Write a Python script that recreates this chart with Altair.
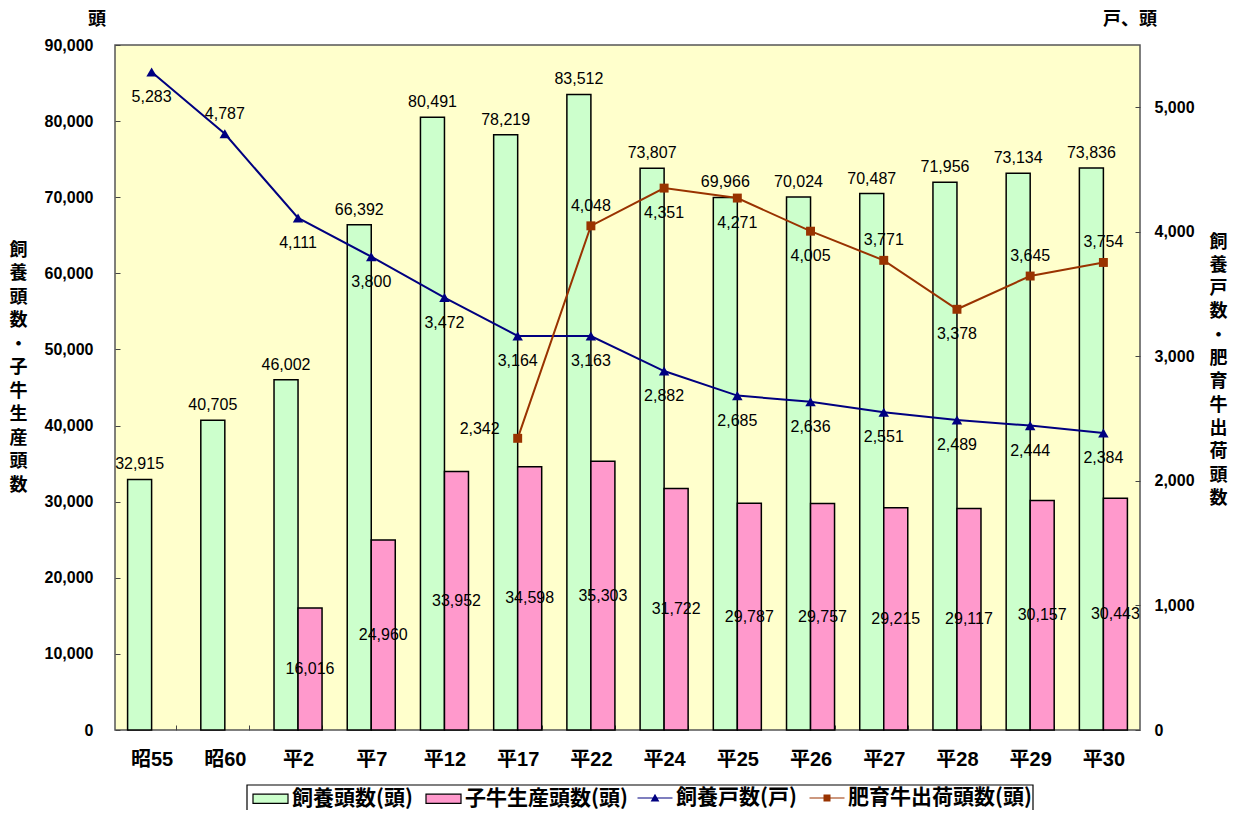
import altair as alt
import pandas as pd

categories = ["昭55", "昭60", "平2", "平7", "平12", "平17", "平22", "平24", "平25", "平26", "平27", "平28", "平29", "平30"]
head_count = [32915, 40705, 46002, 66392, 80491, 78219, 83512, 73807, 69966, 70024, 70487, 71956, 73134, 73836]
calf_count = [None, None, 16016, 24960, 33952, 34598, 35303, 31722, 29787, 29757, 29215, 29117, 30157, 30443]
farm_count = [5283, 4787, 4111, 3800, 3472, 3164, 3163, 2882, 2685, 2636, 2551, 2489, 2444, 2384]
shipped_count = [None, None, None, None, None, 2342, 4048, 4351, 4271, 4005, 3771, 3378, 3645, 3754]
farm_label_pos = ["below", "above", "below", "below", "below", "below", "below", "below", "below", "below", "below", "below", "below", "below"]
shipped_label_pos = [None, None, None, None, None, "left", "above", "below", "below", "below", "above", "below", "above", "above"]
series_names = ["飼養頭数(頭)", "子牛生産頭数(頭)", "飼養戸数(戸)", "肥育牛出荷頭数(頭)"]
series_colors = ["#ccffcc", "#ff99cc", "#000080", "#993300"]
left_unit = "頭"
right_unit = "戸、頭"
left_title = "飼養頭数・子牛生産頭数"
right_title = "飼養戸数・肥育牛出荷頭数"
left_ticks = [0, 10000, 20000, 30000, 40000, 50000, 60000, 70000, 80000, 90000]
right_ticks = [0, 1000, 2000, 3000, 4000, 5000]

NUM_FONT = "Liberation Sans, Noto Sans CJK JP"
CJK_FONT = "Noto Sans CJK JP"

bar_rows = []
for c, h, k in zip(categories, head_count, calf_count):
    bar_rows.append({"cat": c, "series": series_names[0], "value": h})
    if k is not None:
        bar_rows.append({"cat": c, "series": series_names[1], "value": k})
bars_df = pd.DataFrame(bar_rows)

line_rows = []
for c, v, p in zip(categories, farm_count, farm_label_pos):
    line_rows.append({"cat": c, "series": series_names[2], "value": v, "pos": p})
for c, v, p in zip(categories, shipped_count, shipped_label_pos):
    if v is not None:
        line_rows.append({"cat": c, "series": series_names[3], "value": v, "pos": p})
lines_df = pd.DataFrame(line_rows)

units_df = pd.DataFrame({"left": [left_unit], "right": [right_unit]})
legend_df = pd.DataFrame({"series": series_names[2:]})

bar_symbol = "M-1,-0.26H1V0.26H-1Z"
line_symbols = [
    "M-1,-0.035H1V0.035H-1ZM-0.25,0.2L0,-0.24L0.25,0.2Z",
    "M-1,-0.035H1V0.035H-1ZM-0.2,-0.2H0.2V0.2H-0.2Z",
]

common_legend = dict(
    title=None, orient="none", direction="horizontal",
    labelFont=CJK_FONT, labelFontSize=21, labelFontWeight="bold", labelColor="black", labelLimit=400,
    symbolSize=1225, columnPadding=10, labelOffset=3, padding=0, symbolOpacity=1,
)
legend_bars = alt.Legend(legendX=137, legendY=735, symbolType=bar_symbol,
                         symbolStrokeColor="black", symbolStrokeWidth=1.2, **common_legend)
legend_lines = alt.Legend(legendX=522, legendY=735, symbolStrokeWidth=1, **common_legend)

x_enc = alt.X(
    "cat:N", sort=categories,
    scale=alt.Scale(paddingInner=0.344, paddingOuter=0.172),
    axis=alt.Axis(title=None, labelAngle=0, labelFont=NUM_FONT, labelFontSize=20, labelFontWeight="bold",
                  labelColor="black", offset=-5, tickSize=5, domain=False, tickBand="extent",
                  labelPadding=19, tickColor="#444", labelBaseline="top"),
)
xoff = alt.XOffset("series:N", sort=series_names[:2],
                   scale=alt.Scale(domain=series_names[:2], paddingInner=0, paddingOuter=0))

left_axis = alt.Axis(
    title=list(left_title), titleAngle=0, titleX=-102, titleY=205, titleAlign="center",
    titleBaseline="middle", titleFont=CJK_FONT, titleFontSize=18, titleFontWeight="bold",
    titleLineHeight=23.5, titleColor="black",
    values=left_ticks, format=",d", labelFont=NUM_FONT, labelFontSize=16, labelFontWeight="bold",
    labelColor="black", offset=-5, tickSize=5, domain=False, grid=False, labelPadding=22, tickColor="#444",
)
right_axis = alt.Axis(
    orient="right",
    title=list(right_title), titleAngle=0, titleX=83, titleY=197, titleAlign="center",
    titleBaseline="middle", titleFont=CJK_FONT, titleFontSize=18, titleFontWeight="bold",
    titleLineHeight=23.3, titleColor="black",
    values=right_ticks, format=",d", labelFont=NUM_FONT, labelFontSize=16, labelFontWeight="bold",
    labelColor="black", offset=-5, tickSize=5, domain=False, grid=False, labelPadding=14, tickColor="#444",
)

y_left = alt.Y("value:Q", scale=alt.Scale(domain=[0, 90000]), axis=left_axis)
y_right = alt.Y("value:Q", scale=alt.Scale(domain=[0, 5500]), axis=right_axis)

bars = alt.Chart(bars_df).mark_bar(stroke="black", strokeWidth=1.5, opacity=1).encode(
    x=x_enc, xOffset=xoff, y=y_left,
    fill=alt.Fill("series:N", scale=alt.Scale(domain=series_names[:2], range=series_colors[:2]),
                  legend=legend_bars),
)
green_text = alt.Chart(bars_df).transform_filter(
    alt.datum.series == series_names[0]
).mark_text(baseline="bottom", dy=-7, font=NUM_FONT, fontSize=16, color="black").encode(
    x=x_enc, xOffset=xoff, y=y_left, text=alt.Text("value:Q", format=",")
)
pink_text = alt.Chart(bars_df).transform_filter(
    alt.datum.series == series_names[1]
).transform_calculate(mid="datum.value / 2").mark_text(
    baseline="middle", font=NUM_FONT, fontSize=16, color="black"
).encode(
    x=x_enc, xOffset=xoff, y=alt.Y("mid:Q", scale=alt.Scale(domain=[0, 90000]), axis=left_axis),
    text=alt.Text("value:Q", format=",")
)
unit_left = alt.Chart(units_df).mark_text(
    font=CJK_FONT, fontSize=18, fontWeight="bold", color="black", baseline="middle"
).encode(x=alt.value(-18), y=alt.value(-25), text="left:N")
unit_right = alt.Chart(units_df).mark_text(
    font=CJK_FONT, fontSize=18, fontWeight="bold", color="black", baseline="middle"
).encode(x=alt.value(1015), y=alt.value(-25), text="right:N")
legend_box = alt.Chart(units_df).mark_rect(filled=False, stroke="black", strokeWidth=1.2).encode(
    x=alt.value(132), x2=alt.value(918), y=alt.value(740), y2=alt.value(800)
)

left_layer = alt.layer(bars, green_text, pink_text, unit_left, unit_right, legend_box)

farm_line = alt.Chart(lines_df).transform_filter(alt.datum.series == series_names[2]).mark_line(
    strokeWidth=2, color=series_colors[2]
).encode(x=x_enc, y=y_right)
ship_line = alt.Chart(lines_df).transform_filter(alt.datum.series == series_names[3]).mark_line(
    strokeWidth=2, color=series_colors[3]
).encode(x=x_enc, y=y_right)
tri = alt.Chart(lines_df).transform_filter(alt.datum.series == series_names[2]).mark_point(
    shape="triangle-up", filled=True, size=110, opacity=1, color=series_colors[2]
).encode(x=x_enc, y=y_right)
sq = alt.Chart(lines_df).transform_filter(alt.datum.series == series_names[3]).mark_point(
    shape="square", filled=True, size=80, opacity=1, color=series_colors[3]
).encode(x=x_enc, y=y_right)

lbl_below = alt.Chart(lines_df).transform_filter(alt.datum.pos == "below").mark_text(
    baseline="top", dy=17, font=NUM_FONT, fontSize=16, color="black"
).encode(x=x_enc, y=y_right, text=alt.Text("value:Q", format=","))
lbl_above = alt.Chart(lines_df).transform_filter(alt.datum.pos == "above").mark_text(
    baseline="bottom", dy=-12, font=NUM_FONT, fontSize=16, color="black"
).encode(x=x_enc, y=y_right, text=alt.Text("value:Q", format=","))
lbl_left = alt.Chart(lines_df).transform_filter(alt.datum.pos == "left").mark_text(
    baseline="middle", align="right", dx=-18, dy=-9, font=NUM_FONT, fontSize=16, color="black"
).encode(x=x_enc, y=y_right, text=alt.Text("value:Q", format=","))

# legend-only layer for the two line series (its points are clipped away)
legend_layer = alt.Chart(legend_df).mark_point(filled=True, opacity=1, clip=True).encode(
    x=alt.value(-500), y=alt.value(-500),
    shape=alt.Shape("series:N", scale=alt.Scale(domain=series_names[2:], range=line_symbols), legend=legend_lines),
    color=alt.Color("series:N", scale=alt.Scale(domain=series_names[2:], range=series_colors[2:]), legend=legend_lines),
)

right_layer = alt.layer(farm_line, ship_line, tri, sq, lbl_below, lbl_above, lbl_left, legend_layer)

chart = alt.layer(left_layer, right_layer).resolve_scale(y="independent").properties(
    width=1025, height=685,
    autosize=alt.AutoSizeParams(type="none"),
    padding={"left": 107, "top": 37, "right": 88, "bottom": 80},
    background="white",
).configure_view(fill="#ffffcc", stroke="#555", strokeWidth=1.5)

chart.save("out.html", embed_options={"renderer": "svg", "actions": False})
